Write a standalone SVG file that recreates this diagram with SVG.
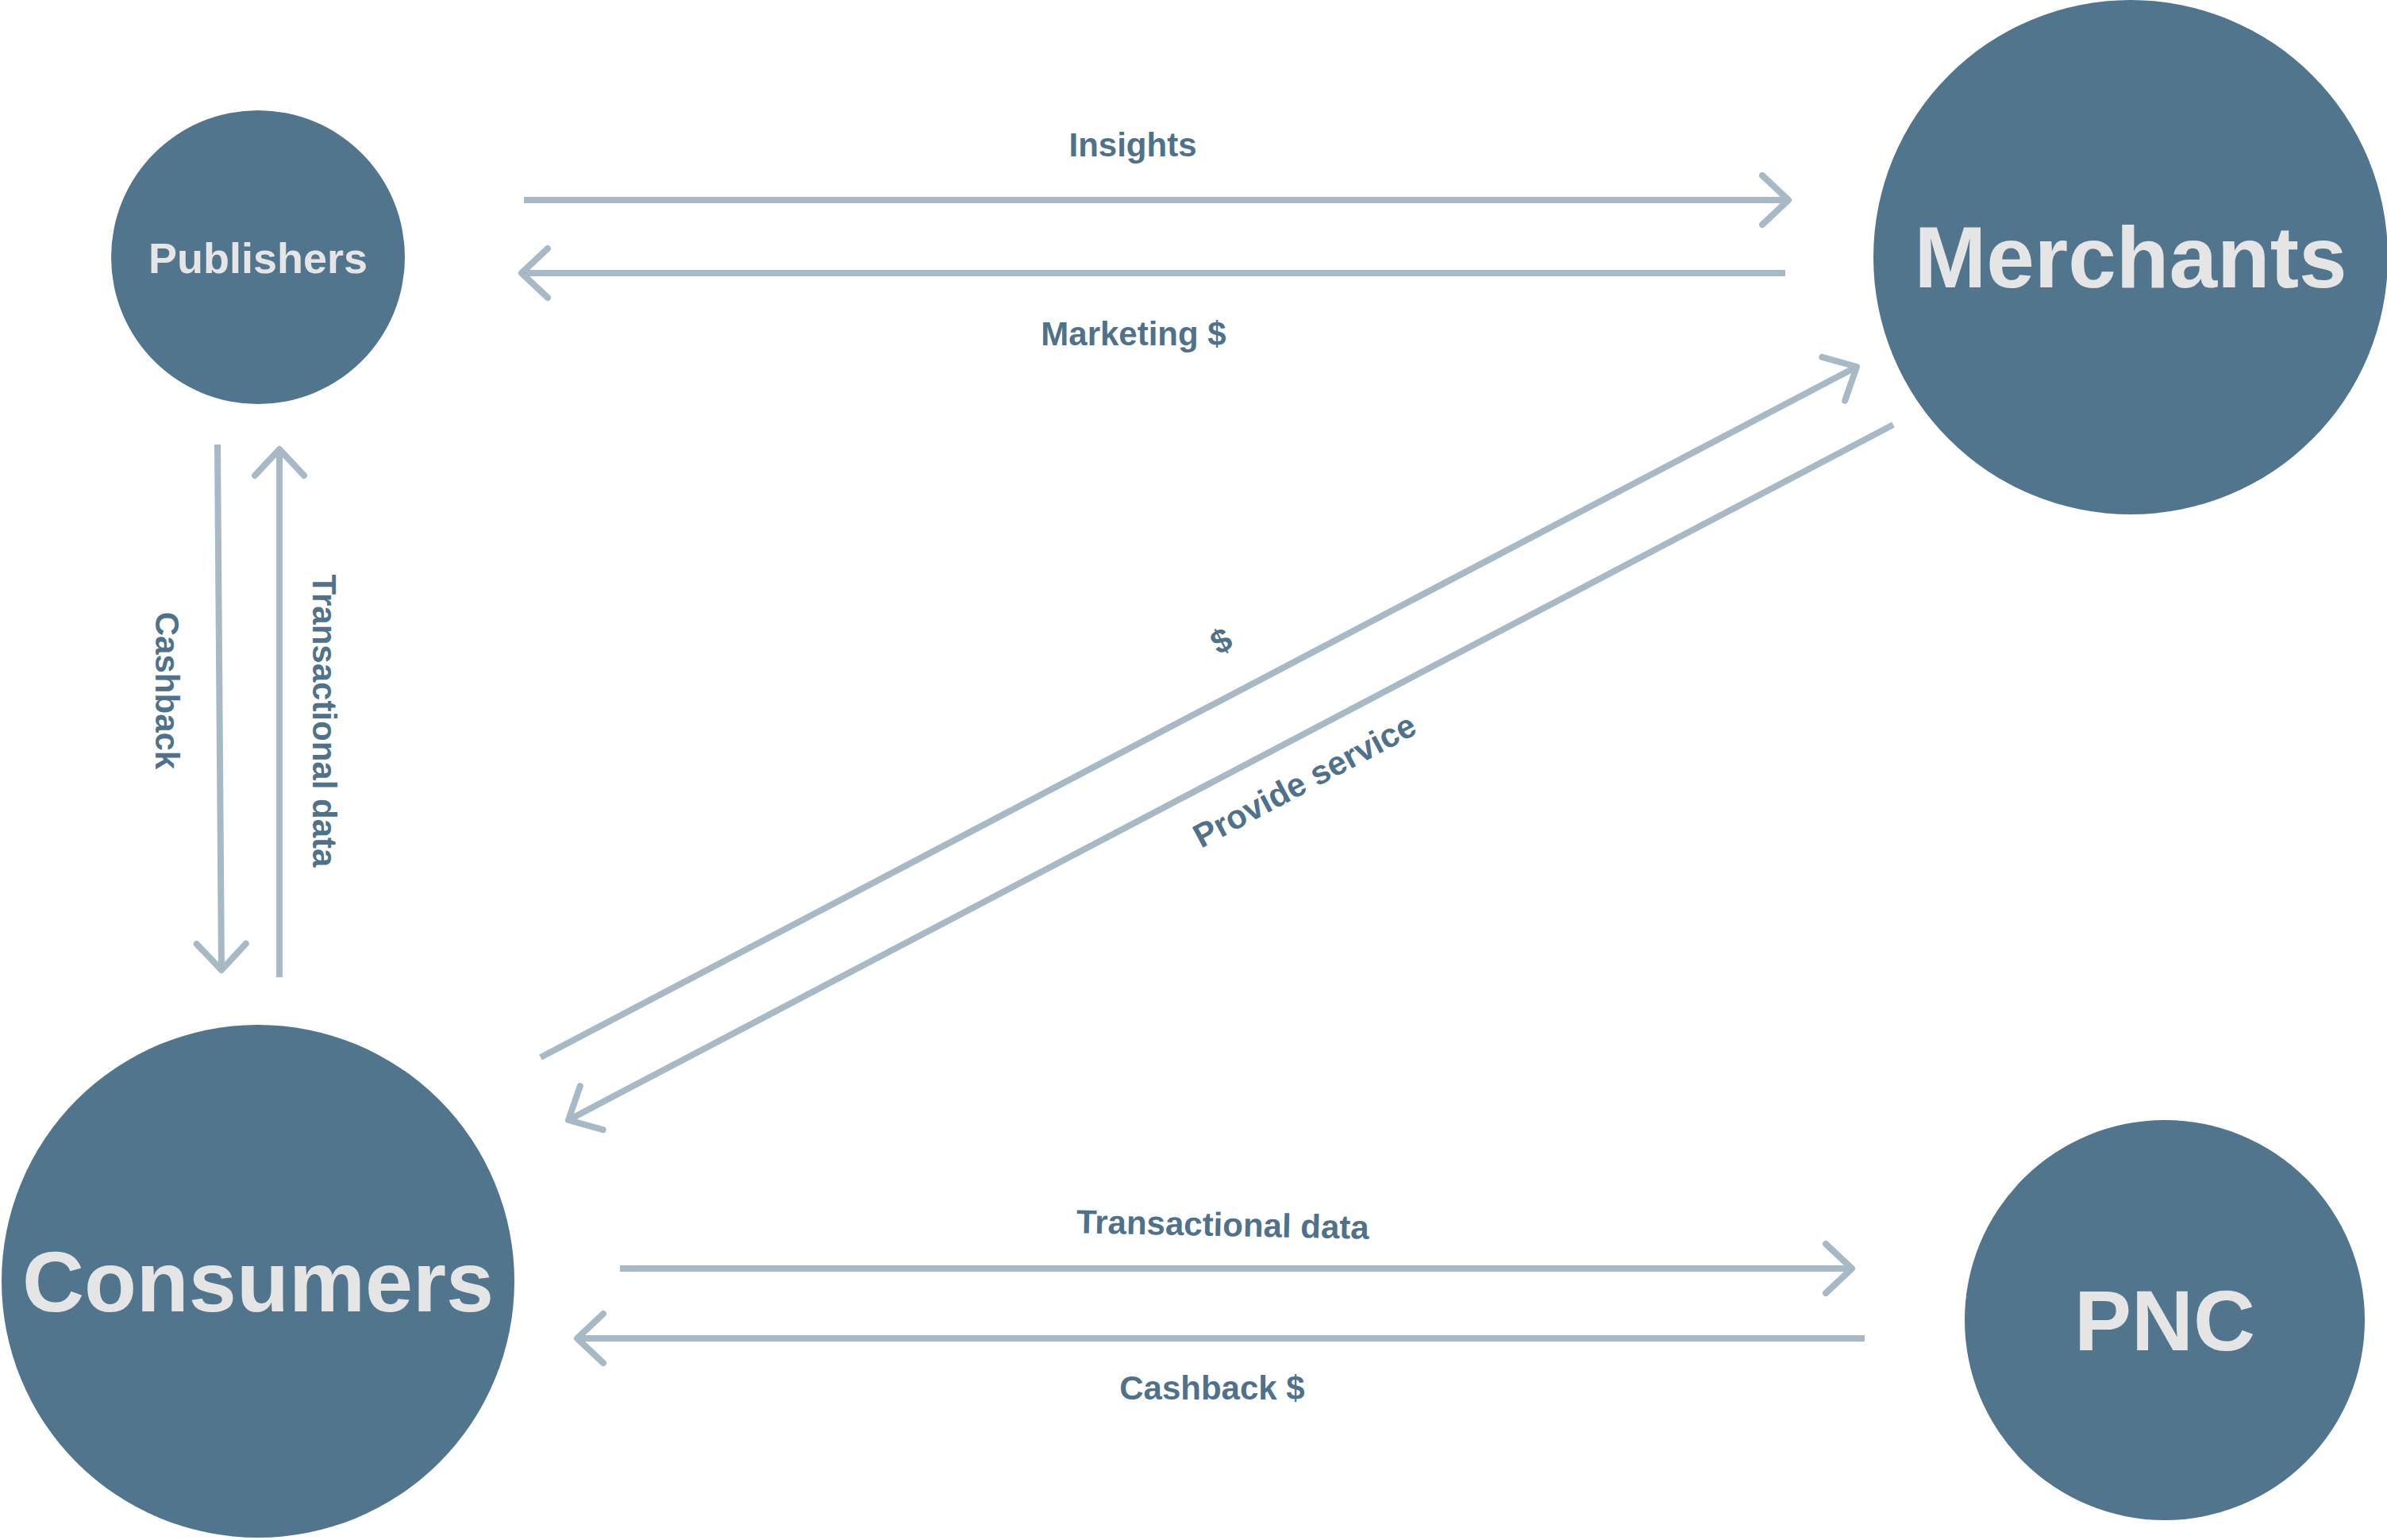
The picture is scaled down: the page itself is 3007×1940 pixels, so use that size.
<svg xmlns="http://www.w3.org/2000/svg" width="3007" height="1940" viewBox="0 0 3007 1940">
  <style>
    .node { fill: #51758D; }
    .ntxt { fill: #E5E5E5; font-family: "Liberation Sans", Arial, sans-serif; font-weight: bold; text-anchor: middle; }
    .conn { stroke: #A8B9C6; stroke-width: 8; fill: none; }
    .lbl { fill: #4F7189; font-family: "Liberation Sans", Arial, sans-serif; font-weight: bold; font-size: 42px; text-anchor: middle; }
  </style>
  <defs>
    <marker id="arrow" markerUnits="userSpaceOnUse" viewBox="-45 -45 90 90" markerWidth="90" markerHeight="90" refX="0" refY="0" orient="auto">
      <path d="M-33,-31 L0,0 L-33,31" fill="none" stroke="#A8B9C6" stroke-width="8" stroke-linecap="round" stroke-linejoin="round"/>
    </marker>
  </defs>
  <rect width="3007" height="1940" fill="#FFFFFF"/>

  <g id="connectors">
    <line class="conn" x1="660" y1="252" x2="2253" y2="252" marker-end="url(#arrow)"/>
    <line class="conn" x1="2249" y1="344" x2="657" y2="344" marker-end="url(#arrow)"/>
    <line class="conn" x1="274" y1="560" x2="279" y2="1222" marker-end="url(#arrow)"/>
    <line class="conn" x1="352" y1="1231" x2="352" y2="566" marker-end="url(#arrow)"/>
    <line class="conn" x1="681" y1="1332" x2="2339" y2="462" marker-end="url(#arrow)"/>
    <line class="conn" x1="2385" y1="535" x2="716" y2="1411" marker-end="url(#arrow)"/>
    <line class="conn" x1="781" y1="1598" x2="2333" y2="1598" marker-end="url(#arrow)"/>
    <line class="conn" x1="2349" y1="1686" x2="727" y2="1686" marker-end="url(#arrow)"/>

    <text class="lbl" x="1427" y="197">Insights</text>
    <text class="lbl" x="1428" y="435">Marketing $</text>
    <text class="lbl" transform="translate(196,870) rotate(90)">Cashback</text>
    <text class="lbl" transform="translate(394,908) rotate(90)">Transactional data</text>
    <text class="lbl" transform="translate(1545,820) rotate(-28)">$</text>
    <text class="lbl" transform="translate(1650,996) rotate(-28)">Provide service</text>
    <text class="lbl" transform="translate(1540,1557) rotate(1.2)">Transactional data</text>
    <text class="lbl" x="1527" y="1763">Cashback $</text>
  </g>

  <g id="publishers">
    <circle class="node" cx="325" cy="324" r="185"/>
    <text class="ntxt" x="325" y="344" font-size="54">Publishers</text>
  </g>
  <g id="merchants">
    <circle class="node" cx="2684" cy="324" r="324"/>
    <text class="ntxt" x="2684" y="362" font-size="109">Merchants</text>
  </g>
  <g id="consumers">
    <circle class="node" cx="325" cy="1614" r="323"/>
    <text class="ntxt" x="325" y="1652" font-size="108">Consumers</text>
  </g>
  <g id="pnc">
    <circle class="node" cx="2727" cy="1663" r="252"/>
    <text class="ntxt" x="2727" y="1701" font-size="108">PNC</text>
  </g>
</svg>
